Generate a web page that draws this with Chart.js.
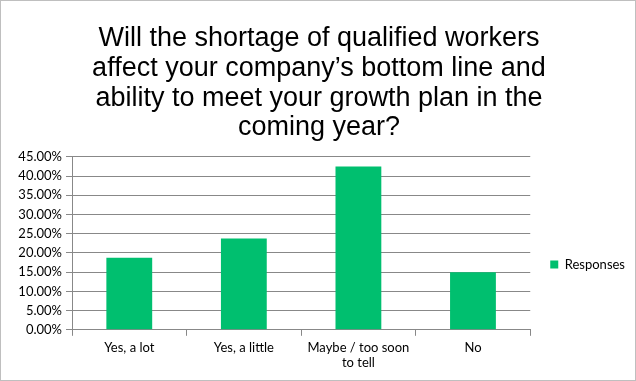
<!DOCTYPE html>
<html>
<head>
<meta charset="utf-8">
<script src="https://cdn.jsdelivr.net/npm/chart.js@4"></script>
<style>
  html, body { margin: 0; padding: 0; background: #fff; }
  #wrap { width: 636px; height: 381px; box-sizing: border-box; border: 1px solid #bfbfbf; position: relative; }
  canvas { display: block; }
</style>
</head>
<body>
<div id="wrap"><canvas id="chartContainer" width="634" height="379"></canvas></div>
<script>
"use strict";

// answers and share of responses (%)
let categories = ['Yes, a lot', 'Yes, a little', ['Maybe / too soon', 'to tell'], 'No'];
let responses = [18.75, 23.75, 42.5, 15.0];
let seriesName = 'Responses';
let titleLines = [
  'Will the shortage of qualified workers',
  'affect your company\u2019s bottom line and',
  'ability to meet your growth plan in the',
  'coming year?'
];

let tickFont = { family: 'Lato, "Open Sans", sans-serif', size: 13 };

// keep the legend in the space under the title instead of the full height
const legendBelowTitle = {
  id: 'legendBelowTitle',
  afterLayout(chart) {
    const lg = chart.legend;
    if (!lg) return;
    lg.top = chart.chartArea.top - 8;
    lg.bottom = chart.height;
  }
};

let chart = new Chart(document.getElementById('chartContainer'), {
  type: 'bar',
  data: {
    labels: categories,
    datasets: [{
      label: seriesName,
      data: responses,
      backgroundColor: 'rgb(0, 191, 111)',
      barPercentage: 0.4,
      categoryPercentage: 1.0
    }]
  },
  options: {
    responsive: false,
    animation: false,
    layout: { padding: { left: 2, right: 0, top: 0, bottom: 5 } },
    plugins: {
      title: {
        display: true,
        text: titleLines,
        color: '#000',
        font: { family: '"Liberation Sans", Arial, sans-serif', size: 27, weight: 'normal', lineHeight: 1.1 },
        padding: { top: 23, bottom: 14 }
      },
      legend: {
        position: 'right',
        labels: {
          color: '#000',
          font: tickFont,
          boxWidth: 8,
          boxHeight: 8,
          padding: 20
        }
      },
      tooltip: { enabled: false }
    },
    scales: {
      x: {
        grid: { offset: true, drawOnChartArea: false, color: '#888', tickLength: 6 },
        border: { color: '#888' },
        ticks: { color: '#000', font: tickFont, maxRotation: 0, padding: 4 }
      },
      y: {
        min: 0,
        max: 45,
        grid: { color: '#888', tickLength: 6 },
        border: { color: '#888' },
        afterFit: function (scale) { scale.width = 69; },
        ticks: {
          stepSize: 5,
          color: '#000',
          font: tickFont,
          padding: 4,
          callback: function (v) { return v.toFixed(2) + '%'; }
        }
      }
    }
  },
  plugins: [legendBelowTitle]
});
</script>
</body>
</html>
